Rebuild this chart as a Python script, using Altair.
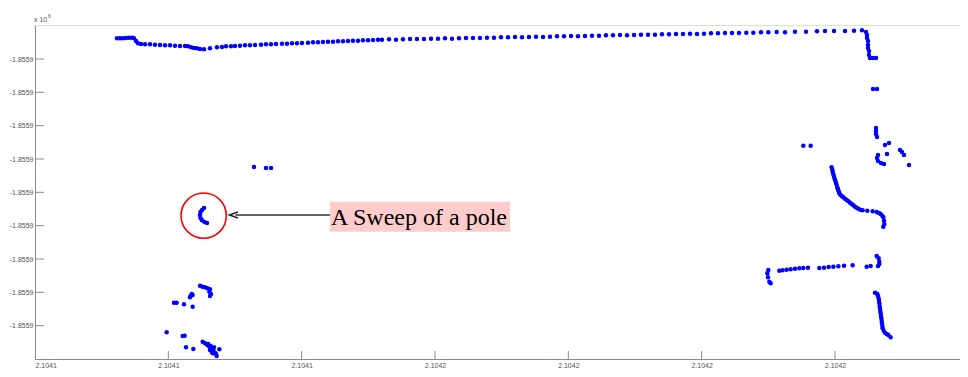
import altair as alt
import pandas as pd

# ---- data (local easting / northing offsets, metres) ----
top_x = [24.6, 25.5, 26.4, 27.3, 28.2, 29.1, 29.7, 30.3, 30.9, 31.8, 33.0, 34.5, 36.0, 37.5, 39.0,
         40.5, 42.0, 43.5, 45.0, 45.9, 46.8, 47.7, 48.6, 49.5, 50.7, 52.5, 54.6, 56.1, 57.3, 58.8,
         60.0, 61.5, 63.0, 64.5, 66.0, 67.8, 69.3, 70.8, 72.3, 74.1, 75.6, 77.1, 78.6, 80.1, 81.9,
         83.4, 84.9, 86.4, 87.9, 89.4, 90.9, 92.4, 93.9, 95.4, 96.9, 98.4, 99.9, 101.4, 102.9,
         104.1, 106.2, 108.3, 110.4, 112.5, 114.6, 116.7, 118.8, 120.9, 123.0, 125.1, 127.2, 129.3,
         131.4, 133.5, 135.6, 137.7, 139.8, 141.9, 144.0, 146.1, 148.2, 150.3, 152.4, 154.5, 156.6,
         158.7, 160.8, 162.9, 165.0, 167.1, 169.2, 171.3, 173.4, 175.5, 177.6, 179.7, 181.8, 183.9,
         186.0, 188.1, 190.2, 192.3, 194.4, 196.5, 198.6, 200.7, 202.8, 204.9, 207.0, 209.1, 211.2,
         213.4, 215.5, 217.8, 220.0, 222.5, 225.0, 228.0, 231.3, 234.6, 237.0, 239.7, 243.0, 245.7,
         248.1]
top_y = [96.2, 96.2, 96.2, 96.3, 96.4, 96.4, 96.2, 95.4, 94.7, 94.5, 94.4, 94.4, 94.3, 94.2, 94.1,
         94.1, 94.0, 93.9, 93.9, 93.8, 93.5, 93.3, 93.2, 93.0, 92.9, 93.2, 93.5, 93.6, 93.8, 93.8,
         93.9, 94.0, 94.1, 94.1, 94.2, 94.3, 94.4, 94.4, 94.5, 94.6, 94.6, 94.7, 94.7, 94.8, 94.9,
         95.0, 95.0, 95.1, 95.2, 95.2, 95.3, 95.3, 95.4, 95.5, 95.5, 95.6, 95.6, 95.7, 95.8,
         95.8, 95.9, 95.8, 95.9, 96.0, 96.0, 96.0, 96.1, 96.1, 96.2, 96.1, 96.2, 96.3,
         96.3, 96.3, 96.4, 96.4, 96.5, 96.5, 96.6, 96.5, 96.6, 96.7, 96.6, 96.7, 96.8,
         96.8, 96.9, 96.8, 96.9, 97.0, 97.0, 97.1, 97.1, 97.2, 97.1, 97.2, 97.3, 97.3,
         97.3, 97.4, 97.4, 97.5, 97.5, 97.6, 97.5, 97.6, 97.7, 97.7, 97.8, 97.8, 97.8,
         97.9, 97.9, 98.0, 98.0, 98.1, 98.0, 98.2, 98.2, 98.3, 98.4, 98.4, 98.4, 98.5,
         98.6]

corner_x = [249.3, 249.6, 249.6, 249.9, 249.9, 249.9, 250.2, 250.2, 250.5, 251.4, 252.3, 251.4, 252.6]
corner_y = [98.1, 97.2, 96.3, 95.4, 94.2, 93.3, 92.4, 91.2, 90.3, 90.3, 90.3, 81.0, 81.0]

mid_x = [230.5, 232.7, 252.3, 252.3, 252.3, 252.6, 255.0, 256.2, 255.6, 252.9, 252.6, 252.9, 253.8,
         254.7, 259.5, 260.1, 260.7, 262.2]
mid_y = [64.0, 64.0, 69.3, 68.4, 67.5, 66.6, 64.2, 64.8, 61.5, 61.2, 60.3, 59.4, 58.8,
         58.5, 62.7, 62.1, 61.2, 58.2]

curve_x = [239.0, 239.2, 239.3, 239.5, 239.7, 239.9, 240.1, 240.3, 240.5, 240.7, 240.9, 241.1, 241.3,
           241.6, 242.0, 242.5, 243.0, 243.5, 244.0, 244.5, 245.0, 245.5, 246.0, 246.5, 247.0,
           247.6, 248.3, 249.7, 251.3, 252.5, 253.2, 253.7, 254.2, 254.5, 254.7, 254.8, 254.5]
curve_y = [57.5, 56.8, 56.2, 55.4, 54.7, 54.1, 53.5, 52.8, 52.2, 51.5, 50.9, 50.3, 49.7,
           49.3, 48.9, 48.5, 48.1, 47.7, 47.3, 46.9, 46.5, 46.1, 45.7, 45.4, 45.1,
           44.8, 44.6, 44.5, 44.3, 44.1, 43.8, 43.5, 43.0, 42.5, 41.5, 40.5, 39.7]

low_x = [220.0, 219.7, 219.9, 220.3, 220.7, 223.3, 224.3, 225.5, 226.7, 228.0, 229.3, 230.5, 231.9,
         235.3, 236.7, 238.1, 239.5, 241.0, 242.7, 245.3, 249.5, 250.7, 252.5, 253.1, 253.3, 253.3,
         252.9, 252.0, 252.7, 252.9, 253.1, 253.2, 253.3, 253.4, 253.5, 253.6, 253.7, 253.8, 253.9,
         254.0, 254.1, 254.2, 254.3, 254.6, 255.0, 255.5, 256.0, 256.7]
low_y = [26.7, 25.7, 24.5, 23.2, 22.7, 26.5, 26.6, 26.8, 26.9, 27.1, 27.2, 27.3, 27.4,
         27.3, 27.4, 27.6, 27.7, 27.8, 28.0, 28.1, 27.7, 27.9, 30.9, 30.2, 29.2, 28.5,
         27.9, 19.9, 19.5, 18.9, 18.2, 17.4, 16.7, 15.9, 15.2, 14.4, 13.7, 12.9, 12.2,
         11.4, 10.7, 9.9, 9.2, 8.5, 7.9, 7.5, 7.2, 6.5]

left_x = [65.7, 69.3, 70.8,
          50.7, 50.1, 49.65, 49.5, 49.65, 50.1, 50.85, 51.6,
          49.5, 50.2, 51.0, 51.7, 52.5, 52.3, 52.8, 52.5, 47.0, 46.7, 46.5, 47.3, 41.7, 42.5, 44.7, 47.3,
          39.5, 44.3, 44.9, 45.3, 47.5,
          50.3, 51.0, 51.7, 52.3, 53.0, 53.5, 54.0, 54.5, 52.5, 53.0, 55.3, 52.0, 52.7, 53.7, 53.3, 54.3]
left_y = [57.6, 57.3, 57.3,
          45.3, 44.7, 44.1, 43.2, 42.3, 41.6, 41.1, 40.8,
          22.0, 21.7, 21.5, 21.2, 20.9, 20.2, 19.5, 18.9, 19.5, 18.9, 18.5, 19.2, 16.9, 16.9, 16.4, 15.7,
          8.0, 6.9, 7.0, 3.5, 3.0,
          5.2, 4.7, 4.2, 3.7, 3.2, 2.7, 1.9, 0.9, 2.7, 2.2, 2.9, 4.5, 3.9, 3.5, 1.7, 1.5]

x_ticks = [0, 40, 80, 120, 160, 200, 240]
x_tick_labels = ["2.1041", "2.1041", "2.1041", "2.1042", "2.1042", "2.1042", "2.1042"]
y_ticks = [10, 20, 30, 40, 50, 60, 70, 80, 90]
y_tick_labels = ["-1.8559"] * 9

# annotation (data coordinates)
pole_center = (50.6, 43.0)
arrow_from = 88.5
arrow_to = 59.6
arrow_y = 43.2
box = (88.5, 142.5, 38.2, 47.2)
label_text = "A Sweep of a pole"

W, H = 925, 334
XD = [0, 277.5]
YD = [0, 100.2]

pts = pd.DataFrame({
    "x": top_x + corner_x + mid_x + curve_x + low_x + left_x,
    "y": top_y + corner_y + mid_y + curve_y + low_y + left_y,
})

xs = alt.Scale(domain=XD, nice=False, zero=False)
ys = alt.Scale(domain=YD, nice=False, zero=False)

x_label_expr = "{" + ",".join(f"'{v}':'{l}'" for v, l in zip(x_ticks, x_tick_labels)) + "}[datum.value]"
y_label_expr = "{" + ",".join(f"'{v}':'{l}'" for v, l in zip(y_ticks, y_tick_labels)) + "}[datum.value]"

axis_common = dict(grid=False, ticks=False, domainColor="#8a8a8a", domainWidth=1,
                   labelColor="#555555", labelFont="Liberation Sans", labelFontSize=7,
                   labelPadding=2, title=None)

points = alt.Chart(pts).mark_circle(color="#0000ff", size=20, opacity=1).encode(
    x=alt.X("x:Q", scale=xs, axis=alt.Axis(values=x_ticks, labelExpr=x_label_expr, **axis_common)),
    y=alt.Y("y:Q", scale=ys, axis=alt.Axis(values=y_ticks, labelExpr=y_label_expr, **axis_common)),
)

xt = alt.Chart(pd.DataFrame({"x": x_ticks[1:]})).mark_rule(color="#8a8a8a", strokeWidth=1).encode(
    x=alt.X("x:Q", scale=xs), y=alt.value(H), y2=alt.value(H - 8))
yt = alt.Chart(pd.DataFrame({"y": y_ticks})).mark_rule(color="#8a8a8a", strokeWidth=1).encode(
    y=alt.Y("y:Q", scale=ys), x=alt.value(0), x2=alt.value(9))

circle = alt.Chart(pd.DataFrame({"x": [pole_center[0]], "y": [pole_center[1]]})).mark_point(
    shape="circle", size=2050, filled=False, color="#ff0000", strokeWidth=1.6, opacity=1).encode(
    x=alt.X("x:Q", scale=xs), y=alt.Y("y:Q", scale=ys))

rect = alt.Chart(pd.DataFrame({"x": [box[0]], "x2": [box[1]], "y": [box[2]], "y2": [box[3]]})).mark_rect(
    color="#ffcccc").encode(x=alt.X("x:Q", scale=xs), x2="x2", y=alt.Y("y:Q", scale=ys), y2="y2")

arrow = alt.Chart(pd.DataFrame({"x": [arrow_to + 0.5], "x2": [arrow_from], "y": [arrow_y]})).mark_rule(
    color="#333333", strokeWidth=1.5).encode(x=alt.X("x:Q", scale=xs), x2="x2", y=alt.Y("y:Q", scale=ys))

head = alt.Chart(pd.DataFrame({"x": [arrow_to], "y": [arrow_y]})).mark_point(
    shape="M 1 -0.7 L -1 0 L 1 0.7", size=70, filled=False, color="#222222", strokeWidth=1.5, opacity=1).encode(
    x=alt.X("x:Q", scale=xs), y=alt.Y("y:Q", scale=ys))

label = alt.Chart(pd.DataFrame({"x": [box[0] + 0.3], "y": [(box[2] + box[3]) / 2], "t": [label_text]})).mark_text(
    align="left", baseline="middle", font="Liberation Serif", fontSize=24, color="#000000", dy=1).encode(
    x=alt.X("x:Q", scale=xs), y=alt.Y("y:Q", scale=ys), text="t:N")

exp1 = alt.Chart(pd.DataFrame({"t": ["x 10"]})).mark_text(
    align="left", baseline="middle", font="Liberation Sans", fontSize=7, color="#555555").encode(
    x=alt.value(-1), y=alt.value(-5), text="t:N")
exp2 = alt.Chart(pd.DataFrame({"t": ["6"]})).mark_text(
    align="left", baseline="middle", font="Liberation Sans", fontSize=5, color="#555555").encode(
    x=alt.value(13), y=alt.value(-9), text="t:N")

chart = alt.layer(rect, arrow, head, circle, label, xt, yt, points, exp1, exp2).properties(
    width=W, height=H,
    autosize=alt.AutoSizeParams(type="none"),
    padding={"left": 27, "top": 17, "right": 0, "bottom": 10},
).configure_view(stroke=None).configure(background="white")

chart.save("out.html", embed_options={"renderer": "svg", "actions": False})
